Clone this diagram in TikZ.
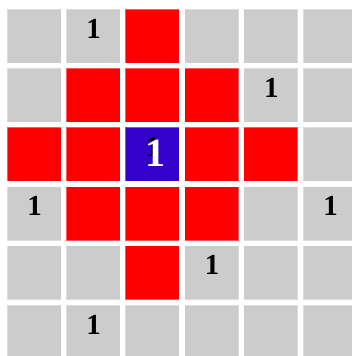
\documentclass[tikz,border=0pt]{standalone}
\usepackage{fontspec}
\setmainfont{Liberation Serif}
\definecolor{cellgray}{RGB}{204,204,204}
\definecolor{cellred}{RGB}{255,0,0}
\definecolor{cellblue}{RGB}{51,0,204}

\begin{document}
\begin{tikzpicture}[
  x=1pt, y=-1pt,
  cell/.style={rectangle, minimum size=54pt, inner sep=0pt,
               draw=white, draw opacity=0.35, line width=0.8pt},
  cell-g/.style={cell, fill=cellgray},
  cell-r/.style={cell, fill=cellred},
  cell-b/.style={cell, fill=cellblue},
  num/.style={inner sep=0pt, text=black, font=\bfseries\fontsize{29}{29}\selectfont},
  bignum/.style={inner sep=0pt, text=white, font=\bfseries\fontsize{40}{40}\selectfont}
]
\useasboundingbox (0,0) rectangle (352,356);
\clip (0,0) rectangle (352,356);

% ---- Board ----
\foreach \row [count=\r from 0] in {{g,g,r,g,g,g},{g,r,r,r,g,g},{r,r,b,r,r,g},
                                    {g,r,r,r,g,g},{g,g,r,g,g,g},{g,g,g,g,g,g}} {
  \foreach \kind [count=\c from 0] in \row {
    \node[cell-\kind] (c\r\c) at ({34+59.2*\c}, {36+59.2*\r}) {};
  }
}

% ---- Counts ----
\foreach \cid in {01,14,22,30,35,43,51} {
  \node[num] (n\cid) at ([xshift=0.5pt, yshift=7.5pt]c\cid.center) {1};
}
\node[bignum] (pick) at ([xshift=3pt, yshift=1pt]c22.center) {1};

\end{tikzpicture}
\end{document}
